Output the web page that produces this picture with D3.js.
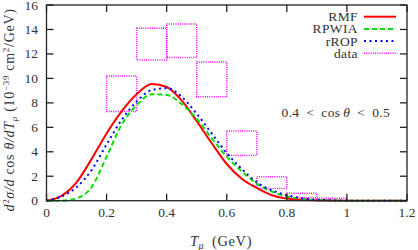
<!DOCTYPE html>
<html>
<head>
<meta charset="utf-8">
<script src="https://cdn.jsdelivr.net/npm/d3@7"></script>
<style>
  body { margin: 0; background: #fff; }
  text { font-family: "Liberation Serif", "DejaVu Serif", serif; fill: #333; }
</style>
</head>
<body>
<svg id="chart" width="418" height="250"></svg>
<script>
// kinetic energy grid (GeV)
var tmu = [0, 0.05, 0.1, 0.15, 0.2, 0.25, 0.3, 0.35, 0.4, 0.45, 0.5, 0.55, 0.6,
           0.65, 0.7, 0.75, 0.8, 0.85, 0.9, 0.95, 1.0, 1.2]

// model curves, 10^-39 cm^2/GeV
var rmf   = [0, 0.4, 1.5, 3.4, 5.5, 7.3, 8.7, 9.55, 9.3, 8.2, 6.5, 4.7, 3.0,
             1.8, 1.05, 0.45, 0.18, 0.07, 0.03, 0.01, 0, 0]
var rpwia = [0, 0, 0.2, 1.1, 3.6, 6.2, 7.8, 8.7, 8.65, 7.9, 6.7, 5.1, 3.6,
             2.4, 1.4, 0.75, 0.35, 0.15, 0.05, 0.02, 0, 0]
var rrop  = [0, 0.35, 1.1, 2.5, 4.6, 6.6, 8.1, 9.05, 9.2, 8.5, 7.1, 5.5, 3.9,
             2.6, 1.5, 0.85, 0.45, 0.2, 0.08, 0.03, 0, 0]

// data bins: edges and error band
var binLo = [0.2, 0.3, 0.4, 0.5, 0.6, 0.7, 0.8, 0.9]
var binHi = [0.3, 0.4, 0.5, 0.6, 0.7, 0.8, 0.9, 1.0]
var errLo = [7.3, 11.5, 11.7, 8.5, 3.7, 1.0, 0.25, 0]
var errHi = [10.2, 14.1, 14.45, 11.35, 5.7, 1.96, 0.6, 0.2]

var xTicks = [0, 0.2, 0.4, 0.6, 0.8, 1, 1.2]
var yTicks = [0, 2, 4, 6, 8, 10, 12, 14, 16]

var svg = d3.select('#chart')
var m = { left: 46.5, right: 407, top: 5, bottom: 200.7 }

var x = d3.scaleLinear().domain([0, 1.2]).range([m.left, m.right])
var y = d3.scaleLinear().domain([0, 16]).range([m.bottom, m.top])

var plot = svg.append('g')

// data boxes
binLo.forEach(function (lo, i) {
  plot.append('rect')
    .attr('x', x(lo)).attr('y', y(errHi[i]))
    .attr('width', x(binHi[i]) - x(lo))
    .attr('height', y(errLo[i]) - y(errHi[i]))
    .attr('fill', 'none').attr('stroke', '#ff00ff')
    .attr('stroke-width', 1.5).attr('stroke-dasharray', '1,1.2')
})

var series = [
  { name: 'RMF',   vals: rmf,   color: '#ff0000', dash: null },
  { name: 'RPWIA', vals: rpwia, color: '#00e000', dash: '5,3' },
  { name: 'rROP',  vals: rrop,  color: '#0000ff', dash: '2,3.5' }
]

var line = d3.line().curve(d3.curveMonotoneX)
series.forEach(function (s) {
  plot.append('path')
    .datum(tmu.map(function (t, i) { return [x(t), y(s.vals[i])] }))
    .attr('d', line)
    .attr('fill', 'none').attr('stroke', s.color)
    .attr('stroke-width', 2).attr('stroke-dasharray', s.dash)
})

// frame and inner ticks
var axisColor = '#222'
svg.append('rect')
  .attr('x', m.left).attr('y', m.top)
  .attr('width', m.right - m.left).attr('height', m.bottom - m.top)
  .attr('fill', 'none').attr('stroke', axisColor).attr('stroke-width', 1.3)

var tk = 7
xTicks.forEach(function (t) {
  svg.append('line').attr('x1', x(t)).attr('x2', x(t))
    .attr('y1', m.bottom).attr('y2', m.bottom - tk).attr('stroke', axisColor).attr('stroke-width', 1.3)
  svg.append('line').attr('x1', x(t)).attr('x2', x(t))
    .attr('y1', m.top).attr('y2', m.top + tk).attr('stroke', axisColor).attr('stroke-width', 1.3)
  svg.append('text').attr('x', x(t)).attr('y', 217)
    .attr('text-anchor', 'middle').attr('font-size', 13.5).text(t)
})
yTicks.forEach(function (v) {
  svg.append('line').attr('x1', m.left).attr('x2', m.left + tk)
    .attr('y1', y(v)).attr('y2', y(v)).attr('stroke', axisColor).attr('stroke-width', 1.3)
  svg.append('line').attr('x1', m.right).attr('x2', m.right - tk)
    .attr('y1', y(v)).attr('y2', y(v)).attr('stroke', axisColor).attr('stroke-width', 1.3)
  svg.append('text').attr('x', 38).attr('y', y(v) + 4.5)
    .attr('text-anchor', 'end').attr('font-size', 13.5).text(v)
})

// axis titles
var xt = svg.append('text').attr('x', 221).attr('y', 246)
  .attr('text-anchor', 'middle').attr('font-size', 14.5).attr('letter-spacing', 0.6)
xt.append('tspan').attr('font-style', 'italic').text('T')
xt.append('tspan').attr('font-style', 'italic').attr('font-size', 10).attr('dy', 3).text('μ')
xt.append('tspan').attr('dy', -3).text('\u2002(GeV)')

var yt = svg.append('text')
  .attr('transform', 'translate(13.5,110) rotate(-90)')
  .attr('text-anchor', 'middle').attr('font-size', 14).attr('letter-spacing', 0.7)
yt.append('tspan').attr('font-style', 'italic').text('d')
yt.append('tspan').attr('font-size', 9).attr('dy', -5).text('2')
yt.append('tspan').attr('dy', 5).attr('font-style', 'italic').text('σ/d')
yt.append('tspan').text(' cos ')
yt.append('tspan').attr('font-style', 'italic').text('θ/dT')
yt.append('tspan').attr('font-style', 'italic').attr('font-size', 9).attr('dy', 3).text('μ')
yt.append('tspan').attr('dy', -3).text(' (10')
yt.append('tspan').attr('font-size', 9).attr('dy', -5).text('−39')
yt.append('tspan').attr('dy', 5).text(' cm')
yt.append('tspan').attr('font-size', 9).attr('dy', -5).text('2')
yt.append('tspan').attr('dy', 5).text('/GeV)')

// legend
var legend = series.concat([{ name: 'data', color: '#ff00ff', dash: '1,1.2', width: 1.5 }])
legend.forEach(function (s, i) {
  var ly = 16.7 + i * 12.2
  svg.append('text').attr('x', 358).attr('y', ly + 4.5)
    .attr('text-anchor', 'end').attr('font-size', 13.5).attr('letter-spacing', 0.4).text(s.name)
  svg.append('line').attr('x1', 364).attr('x2', 396).attr('y1', ly).attr('y2', ly)
    .attr('stroke', s.color).attr('stroke-width', s.width || 2)
    .attr('stroke-dasharray', s.dash)
})

// angular bin label
var cl = svg.append('text').attr('x', 390).attr('y', 117)
  .attr('text-anchor', 'end').attr('font-size', 13.5).attr('letter-spacing', 0.3)
cl.append('tspan').text('0.4\u2002<\u2002cos\u2009')
cl.append('tspan').attr('font-style', 'italic').text('θ')
cl.append('tspan').text('\u2002<\u20020.5')
</script>
</body>
</html>
